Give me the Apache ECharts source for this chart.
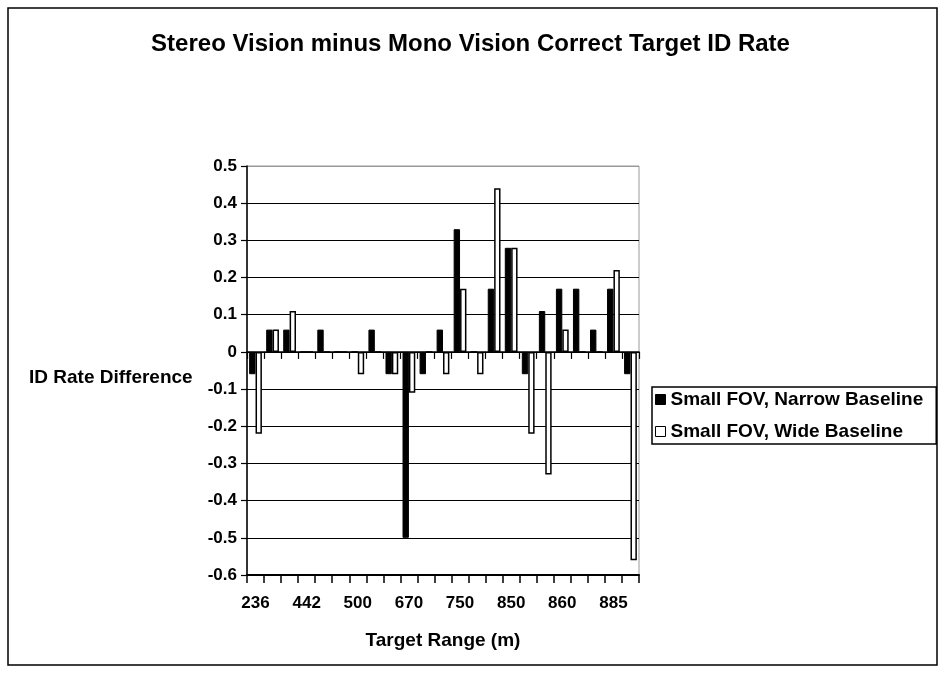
<!DOCTYPE html>
<html>
<head>
<meta charset="utf-8">
<script src="https://cdn.jsdelivr.net/npm/echarts@6/dist/echarts.min.js"></script>
<style>
html,body{margin:0;padding:0;background:#fff;}
#chart{width:941px;height:673px;}
</style>
</head>
<body>
<div id="chart"></div>
<script>
// Data
var categories = ['236','300','400','442','450','480','500','550','600','670','700','720','750','780','800','850','852','855','860','865','870','885','890'];
var narrowBaseline = [-0.06,0.06,0.06,0,0.06,0,0,0.06,-0.06,-0.5,-0.06,0.06,0.33,0,0.17,0.28,-0.06,0.11,0.17,0.17,0.06,0.17,-0.06];
var wideBaseline = [-0.22,0.06,0.11,0,0,0,-0.06,0,-0.06,-0.11,0,-0.06,0.17,-0.06,0.44,0.28,-0.22,-0.33,0.06,0,0,0.22,-0.56];
var seriesNames = ['Small FOV, Narrow Baseline','Small FOV, Wide Baseline'];
var titleText = 'Stereo Vision minus Mono Vision Correct Target ID Rate';
var xTitle = 'Target Range (m)';
var yTitle = 'ID Rate Difference';

var FONT = '"Liberation Sans", Arial, sans-serif';
var chart = echarts.init(document.getElementById('chart'), null, {renderer:'canvas'});
var gridPos = {left:247, top:166, width:392, height:409};
var splitColors = [];
for (var i=0;i<11;i++) splitColors.push('#000');
splitColors.push('#999');

chart.setOption({
  backgroundColor:'#fff',
  animation:false,
  title:{
    text:titleText, left:'center', top:27,
    textStyle:{fontFamily:FONT, fontSize:24, fontWeight:'bold', color:'#000'}
  },
  legend:{
    orient:'vertical', left:652, top:387,
    icon:'rect', itemWidth:10, itemHeight:10, itemGap:13,
    padding:[3,13,3,3],
    borderColor:'#000', borderWidth:1.5,
    textStyle:{fontFamily:FONT, fontSize:19, fontWeight:'bold', color:'#000'},
    data:[
      {name:seriesNames[0], itemStyle:{color:'#000', borderColor:'#000', borderWidth:1}},
      {name:seriesNames[1], itemStyle:{color:'#fff', borderColor:'#000', borderWidth:1}}
    ]
  },
  grid:[
    Object.assign({show:true, borderColor:'#999', borderWidth:1, backgroundColor:'transparent'}, gridPos),
    Object.assign({show:false}, gridPos)
  ],
  xAxis:[
    {
      type:'category', gridIndex:0, data:categories, position:'bottom',
      axisLine:{onZero:false, lineStyle:{color:'#000', width:2}},
      axisTick:{show:true, interval:0, length:8, lineStyle:{color:'#000', width:1.5}},
      axisLabel:{interval:2, margin:20, fontFamily:FONT, fontSize:17, fontWeight:'bold', color:'#000'},
      splitLine:{show:false},
      name:xTitle, nameLocation:'middle', nameGap:56,
      nameTextStyle:{fontFamily:FONT, fontSize:19, fontWeight:'bold', color:'#000'}
    },
    {
      type:'category', gridIndex:1, data:categories, position:'bottom',
      axisLine:{onZero:true, lineStyle:{color:'#000', width:1.5}},
      axisTick:{show:true, interval:0, length:7, lineStyle:{color:'#000', width:1.2}},
      axisLabel:{show:false},
      splitLine:{show:false}
    }
  ],
  yAxis:[
    {
      type:'value', gridIndex:0, min:-0.6, max:0.5, interval:0.1,
      axisLine:{show:true, lineStyle:{color:'#000', width:1.5}},
      axisTick:{show:true, length:6, lineStyle:{color:'#000', width:1.2}},
      axisLabel:{margin:10, fontFamily:FONT, fontSize:17, fontWeight:'bold', color:'#000',
        formatter:function(v){ return String(Math.round(v*10)/10); }},
      splitLine:{show:true, lineStyle:{color:splitColors, width:1}}
    },
    {
      type:'value', gridIndex:1, min:-0.6, max:0.5, interval:0.1, show:false,
      splitLine:{show:false}
    }
  ],
  graphic:[
    {type:'rect', shape:{x:8, y:8, width:929, height:657}, style:{fill:'none', stroke:'#000', lineWidth:1.5}, z:-1, silent:true},
    {type:'text', left:29, top:368, style:{text:yTitle, fontFamily:FONT, fontSize:19, fontWeight:'bold', fill:'#000'}}
  ],
  series:[
    {
      name:seriesNames[0], type:'bar', xAxisIndex:0, yAxisIndex:0, data:narrowBaseline,
      barGap:'0%', barCategoryGap:'25%',
      itemStyle:{color:'#000', borderColor:'#000', borderWidth:1}
    },
    {
      name:seriesNames[1], type:'bar', xAxisIndex:0, yAxisIndex:0, data:wideBaseline,
      barGap:'0%', barCategoryGap:'25%',
      itemStyle:{color:'#fff', borderColor:'#000', borderWidth:1.5}
    }
  ]
});
</script>
</body>
</html>
